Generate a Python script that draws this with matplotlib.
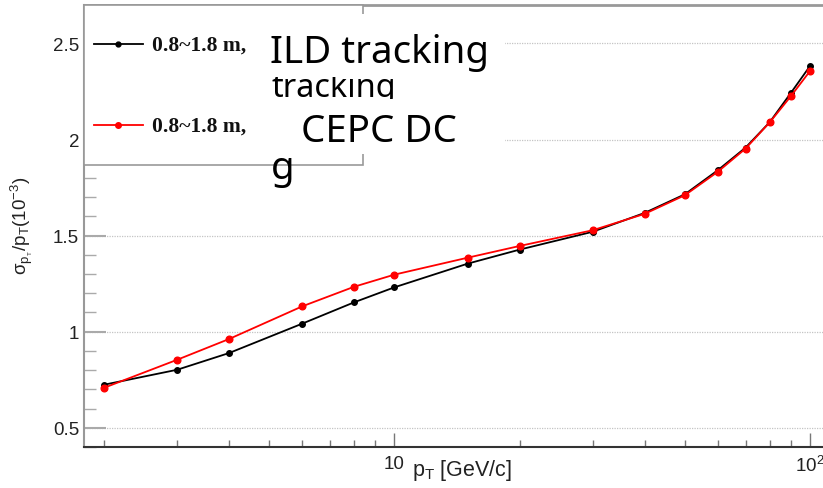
import numpy as np
import matplotlib
matplotlib.use("Agg")
import matplotlib.pyplot as plt
from matplotlib.ticker import FixedLocator, MultipleLocator, FuncFormatter, NullFormatter
from matplotlib.patches import Rectangle
from matplotlib.lines import Line2D
from matplotlib.transforms import Bbox, TransformedBbox

# momentum points [GeV/c]
pt = [2, 3, 4, 6, 8, 10, 15, 20, 30, 40, 50, 60, 70, 80, 90, 100]
# relative pT resolution (10^-3)
res_ild = [0.724, 0.802, 0.889, 1.042, 1.153, 1.231, 1.354, 1.427, 1.520,
           1.618, 1.715, 1.840, 1.958, 2.090, 2.243, 2.382]
res_dc = [0.708, 0.854, 0.962, 1.132, 1.234, 1.297, 1.385, 1.446, 1.528,
          1.613, 1.710, 1.832, 1.953, 2.089, 2.226, 2.356]
legend_labels = ["0.8~1.8 m,", "0.8~1.8 m,"]

W, H = 823, 489
plt.rcParams["font.family"] = ["Liberation Sans", "DejaVu Sans"]
plt.rcParams["mathtext.fontset"] = "custom"
plt.rcParams["mathtext.rm"] = "Liberation Sans"
plt.rcParams["mathtext.it"] = "Liberation Sans"
plt.rcParams["mathtext.bf"] = "Liberation Sans:bold"


def fx(x):
    return x / W


def fy(y):
    return 1 - y / H


fig = plt.figure(figsize=(W / 100, H / 100), dpi=100)
ax = fig.add_axes([fx(84), fy(448), 1 - fx(84), fy(6) - fy(448)])

ax.plot(pt, res_ild, color="black", lw=1.3, marker="o", ms=4, zorder=3)
ax.plot(pt, res_dc, color="#ff0000", lw=1.3, marker="o", ms=4.8, zorder=4)

ax.set_xscale("log")
ax.set_xlim(1.79, 107.5)
ax.set_ylim(0.40, 2.70)

ax.xaxis.set_major_locator(FixedLocator([10, 100]))
ax.xaxis.set_minor_locator(FixedLocator([2, 3, 4, 5, 6, 7, 8, 9,
                                         20, 30, 40, 50, 60, 70, 80, 90]))
ax.xaxis.set_major_formatter(FuncFormatter(lambda v, p: "10" if v < 50 else r"$10^{2}$"))
ax.xaxis.set_minor_formatter(NullFormatter())
ax.yaxis.set_major_locator(FixedLocator([0.5, 1.0, 1.5, 2.0, 2.5]))
ax.yaxis.set_minor_locator(MultipleLocator(0.1))
ax.yaxis.set_major_formatter(FuncFormatter(lambda v, p: "%g" % v))

ax.tick_params(axis="y", which="major", direction="in", length=15.5, width=1.5,
               color="#aaaaaa", labelsize=13.5, pad=3.6, labelcolor="#222222")
ax.tick_params(axis="y", which="minor", direction="in", length=8.5, width=1.0,
               color="#aaaaaa")
ax.tick_params(axis="x", which="major", direction="in", length=10, width=1.0,
               color="#777777", labelsize=13.5, pad=5.5, labelcolor="#222222")
ax.tick_params(axis="x", which="minor", direction="in", length=5, width=1.0,
               color="#777777")

ax.grid(True, axis="y", which="major", color="#c4c4c4", lw=0.9, ls=(0, (1, 1)))

ax.spines["right"].set_visible(False)
ax.spines["left"].set_color("#999999")
ax.spines["left"].set_linewidth(1.5)
ax.spines["top"].set_color("#999999")
ax.spines["top"].set_linewidth(2)
ax.spines["bottom"].set_color("#333333")
ax.spines["bottom"].set_linewidth(1.5)

fig.text(fx(22), fy(226), r"$\mathrm{\sigma_{p_{_T}}/p_{T}(10^{-3})}$",
         rotation=90, ha="center", va="center", fontsize=13.5, color="#222222")
fig.text(fx(412), fy(476), r"$\mathrm{p_{T}}$ [GeV/c]", ha="left", va="baseline",
         fontsize=15.5, color="#222222")

# legend box
fig.add_artist(Rectangle((fx(84), fy(166)), fx(363) - fx(84), fy(6) - fy(166),
                         transform=fig.transFigure, facecolor="white",
                         edgecolor="#999999", lw=1.2, zorder=2))
for y, c, ms, lab in [(45, "black", 3.5, legend_labels[0]),
                      (126, "#ff0000", 4, legend_labels[1])]:
    fig.add_artist(Line2D([fx(94), fx(143)], [fy(y), fy(y)], color=c, lw=1.3,
                          transform=fig.transFigure, zorder=3))
    fig.add_artist(Line2D([fx(118.5)], [fy(y)], color=c, marker="o", ms=ms,
                          transform=fig.transFigure, zorder=3))
    fig.text(fx(152), fy(y + 1), lab, ha="left", va="center", fontsize=15.5,
             family="Liberation Serif", weight="bold", color="#111111", zorder=3)

# overflowing caption text
fig.add_artist(Rectangle((fx(268), fy(155)), fx(505) - fx(268), fy(15) - fy(155),
                         transform=fig.transFigure, facecolor="white",
                         edgecolor="none", zorder=2.5))
sans = ["Noto Sans", "DejaVu Sans"]
fig.text(fx(270), fy(63), "ILD tracking", ha="left", va="baseline",
         fontsize=27.7, family=sans, color="black", zorder=4)
t2 = fig.text(fx(271), fy(97), "tracking", ha="left", va="baseline",
              fontsize=23.4, family=sans, color="black", zorder=4)
t2.set_clip_on(True)
t2.set_clip_box(TransformedBbox(Bbox([[fx(260), fy(100)], [fx(420), fy(78)]]),
                                fig.transFigure))
fig.text(fx(301), fy(142), "CEPC DC", ha="left", va="baseline",
         fontsize=27.7, family=sans, color="black", zorder=4)
fig.text(fx(271), fy(179), "g", ha="left", va="baseline",
         fontsize=27.7, family=sans, color="black", zorder=4)

fig.savefig("out.png", dpi=100)
